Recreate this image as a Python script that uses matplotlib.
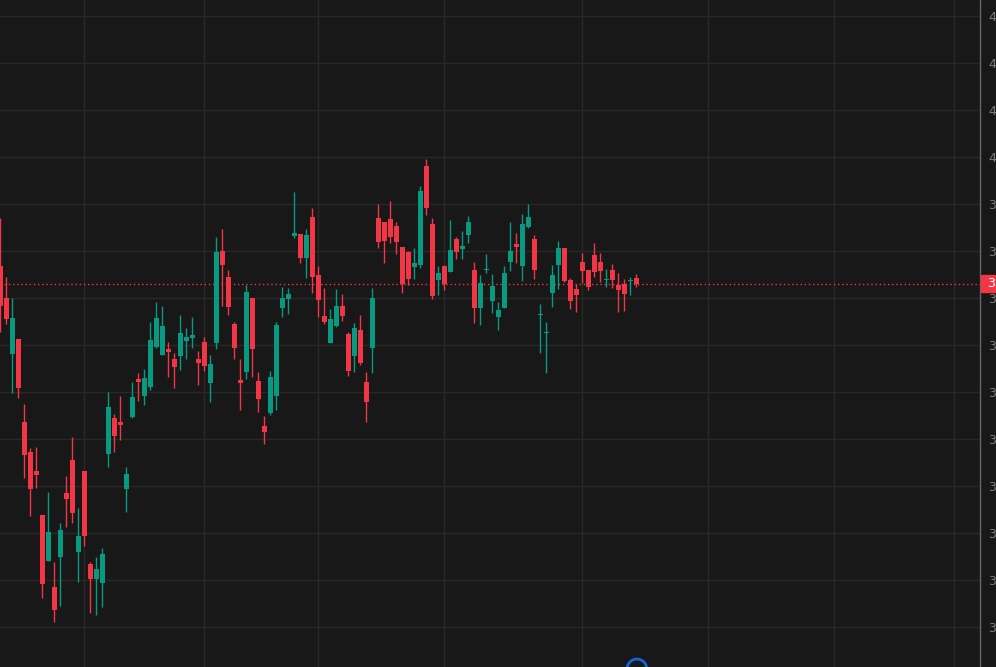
import matplotlib.pyplot as plt
from matplotlib.patches import Rectangle
import numpy as np

# daily OHLC, oldest first
opens = [3.768, 3.700, 3.581, 3.613, 3.436, 3.372, 3.332, 3.238, 3.140, 3.085,
         3.149, 3.285, 3.355, 3.160, 3.332, 3.134, 3.102, 3.094, 3.368, 3.445,
         3.436, 3.294, 3.447, 3.528, 3.491, 3.511, 3.596, 3.579, 3.591, 3.570,
         3.577, 3.609, 3.615, 3.570, 3.606, 3.519, 3.604, 3.800, 3.745, 3.645,
         3.526, 3.543, 3.700, 3.523, 3.428, 3.455, 3.491, 3.679, 3.698, 3.832,
         3.836, 3.785, 3.872, 3.749, 3.662, 3.604, 3.640, 3.683, 3.623, 3.577,
         3.632, 3.521, 3.594, 3.870, 3.862, 3.868, 3.853, 3.809, 3.798, 3.766,
         3.770, 3.981, 3.857, 3.738, 3.768, 3.755, 3.826, 3.804, 3.834, 3.760,
         3.679, 3.760, 3.694, 3.660, 3.679, 3.777, 3.815, 3.768, 3.851, 3.826,
         3.664, 3.626, 3.711, 3.770, 3.806, 3.738, 3.719, 3.777, 3.760, 3.791,
         3.777, 3.738, 3.760, 3.728, 3.730, 3.736, 3.743]
highs = [3.870, 3.745, 3.700, 3.613, 3.474, 3.381, 3.383, 3.238, 3.287, 3.138,
         3.221, 3.321, 3.404, 3.253, 3.332, 3.138, 3.149, 3.168, 3.500, 3.453,
         3.491, 3.340, 3.521, 3.540, 3.549, 3.649, 3.691, 3.683, 3.606, 3.583,
         3.664, 3.636, 3.660, 3.587, 3.617, 3.579, 3.830, 3.847, 3.760, 3.649,
         3.570, 3.728, 3.700, 3.543, 3.449, 3.545, 3.649, 3.723, 3.721, 3.926,
         3.836, 3.847, 3.891, 3.768, 3.721, 3.677, 3.719, 3.709, 3.628, 3.647,
         3.664, 3.543, 3.721, 3.900, 3.862, 3.906, 3.862, 3.809, 3.800, 3.806,
         3.938, 3.996, 3.870, 3.768, 3.770, 3.866, 3.830, 3.843, 3.874, 3.777,
         3.749, 3.794, 3.751, 3.691, 3.768, 3.862, 3.838, 3.879, 3.900, 3.834,
         3.687, 3.649, 3.770, 3.821, 3.806, 3.743, 3.730, 3.796, 3.760, 3.817,
         3.796, 3.762, 3.772, 3.753, 3.740, 3.745, 3.751]
lows = [3.628, 3.645, 3.498, 3.487, 3.317, 3.236, 3.296, 3.062, 3.140, 3.011,
        3.045, 3.213, 3.221, 3.096, 3.172, 3.030, 3.026, 3.043, 3.340, 3.372,
        3.398, 3.245, 3.445, 3.481, 3.472, 3.504, 3.594, 3.579, 3.532, 3.509,
        3.547, 3.570, 3.594, 3.515, 3.545, 3.479, 3.591, 3.683, 3.664, 3.570,
        3.462, 3.528, 3.532, 3.457, 3.389, 3.451, 3.462, 3.660, 3.666, 3.828,
        3.774, 3.743, 3.711, 3.660, 3.645, 3.604, 3.638, 3.651, 3.534, 3.543,
        3.557, 3.436, 3.540, 3.806, 3.774, 3.817, 3.794, 3.711, 3.728, 3.740,
        3.764, 3.877, 3.698, 3.706, 3.717, 3.755, 3.783, 3.783, 3.817, 3.647,
        3.643, 3.753, 3.668, 3.632, 3.679, 3.757, 3.774, 3.736, 3.849, 3.740,
        3.583, 3.540, 3.681, 3.719, 3.734, 3.677, 3.670, 3.732, 3.717, 3.745,
        3.734, 3.723, 3.721, 3.670, 3.672, 3.706, 3.723]
closes = [3.683, 3.655, 3.657, 3.509, 3.366, 3.294, 3.323, 3.092, 3.202, 3.036,
          3.206, 3.272, 3.243, 3.194, 3.194, 3.102, 3.123, 3.155, 3.468, 3.406,
          3.430, 3.326, 3.489, 3.521, 3.530, 3.611, 3.657, 3.640, 3.585, 3.553,
          3.626, 3.617, 3.621, 3.562, 3.555, 3.560, 3.798, 3.770, 3.681, 3.594,
          3.519, 3.713, 3.591, 3.485, 3.415, 3.532, 3.643, 3.700, 3.709, 3.838,
          3.785, 3.834, 3.745, 3.696, 3.649, 3.655, 3.683, 3.662, 3.545, 3.636,
          3.562, 3.479, 3.700, 3.819, 3.821, 3.830, 3.819, 3.730, 3.740, 3.774,
          3.928, 3.891, 3.704, 3.753, 3.730, 3.802, 3.798, 3.811, 3.862, 3.679,
          3.732, 3.762, 3.726, 3.674, 3.753, 3.800, 3.809, 3.857, 3.872, 3.760,
          3.666, 3.628, 3.749, 3.806, 3.736, 3.694, 3.706, 3.757, 3.723, 3.755,
          3.757, 3.740, 3.738, 3.717, 3.709, 3.738, 3.730]

# bar index of each month boundary (vertical grid)
month_starts = [14, 34, 53, 74, 97, 118, 139, 159]
price_ticks = [3.0, 3.1, 3.2, 3.3, 3.4, 3.5, 3.6, 3.7, 3.8, 3.9, 4.0, 4.1, 4.2, 4.3]

bg = '#181818'
green = '#089981'
red = '#f23645'

o = np.array(opens)
h = np.array(highs)
l = np.array(lows)
c = np.array(closes)
idx = np.arange(len(o))
cols = np.where(c >= o, green, red)

fig = plt.figure(figsize=(9.96, 6.67), dpi=100, facecolor=bg)
ax = fig.add_axes([0, 0, 980 / 996, 1], facecolor=bg)

ax.vlines(idx, l, h, colors=cols, lw=1, zorder=3)
ax.bar(idx, np.maximum(np.abs(c - o), 0.0025), bottom=np.minimum(o, c),
       width=0.8, color=cols, linewidth=0, zorder=4)

ax.set_xlim(-0.055, 163.28)
ax.set_ylim(2.915, 4.334)

ax.set_xticks(month_starts)
ax.set_yticks(price_ticks)
ax.set_yticklabels([f"{v:.3f}" for v in price_ticks])
ax.yaxis.tick_right()
ax.tick_params(axis='x', length=0, labelbottom=False)
ax.tick_params(axis='y', length=0, pad=5.8, colors='#7c7c7c', labelsize=9)
ax.grid(color='#282828', lw=1, zorder=0)

for side in ['top', 'bottom', 'left']:
    ax.spines[side].set_visible(False)
ax.spines['right'].set_color('#666666')
ax.spines['right'].set_linewidth(1)

# last price line + label
last = closes[-1]
ax.axhline(last, color=red, lw=1, ls=(0, (1, 2)), zorder=2)
y_last = ax.transData.transform((0, last))[1] / 667
fig.patches.append(Rectangle((981 / 996, y_last - 8.5 / 667), 15 / 996, 17 / 667,
                             transform=fig.transFigure, color=red, zorder=5))
fig.text(987 / 996, y_last, f"{last:.3f}", color='white', va='center',
         fontsize=9, zorder=6)

# event marker at bottom
ax.scatter([len(o) - 1 + 0.1], [2.911], s=200, facecolors='none',
           edgecolors='#1565d8', linewidths=2, clip_on=False, zorder=5)

fig.savefig('out.png', dpi=100, facecolor=bg)
